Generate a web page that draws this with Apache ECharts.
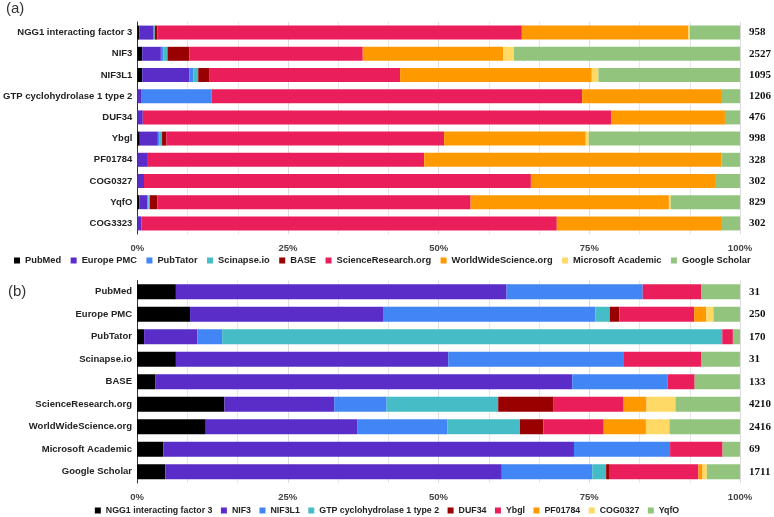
<!DOCTYPE html>
<html>
<head>
<meta charset="utf-8">
<script src="https://cdn.jsdelivr.net/npm/echarts@6/dist/echarts.min.js"></script>
<style>html,body{margin:0;padding:0;background:#fff}#c{width:774px;height:517px}</style>
</head>
<body>
<div id="c"></div>
<script>
// ---------- Chart (a): share of results per source, by protein family ----------
const genesA = ['NGG1 interacting factor 3','NIF3','NIF3L1','GTP cyclohydrolase 1 type 2','DUF34','Ybgl','PF01784','COG0327','YqfO','COG3323'];
const totalsA = [958, 2527, 1095, 1206, 476, 998, 328, 302, 829, 302];
const sourcesA = ['PubMed','Europe PMC','PubTator','Scinapse.io','BASE','ScienceResearch.org','WorldWideScience.org','Microsoft Academic','Google Scholar'];
const pubmedA   = [0.3, 0.8, 0.8, 0, 0, 0.4, 0, 0, 0.35, 0];
const europeA   = [2.3, 3.1, 7.8, 0.6, 0.9, 3.0, 1.6, 1.1, 1.3, 0.7];
const pubtatorA = [0.15, 0.45, 0.7, 11.7, 0, 0.3, 0, 0, 0.2, 0];
const scinapseA = [0.15, 0.65, 0.8, 0, 0, 0.4, 0, 0, 0.25, 0];
const baseA     = [0.4, 3.6, 1.9, 0, 0, 0.7, 0, 0, 1.2, 0];
const sciResA   = [60.5, 28.8, 31.6, 61.5, 77.7, 46.1, 46.0, 64.2, 52.0, 68.9];
const wwsA      = [27.6, 23.3, 31.8, 23.2, 18.9, 23.5, 49.3, 30.7, 32.9, 27.4];
const msAcadA   = [0.3, 1.8, 1.1, 0, 0, 0.5, 0, 0, 0.3, 0];
const scholarA  = [8.3, 37.5, 23.5, 3.0, 2.5, 25.1, 3.1, 4.0, 11.5, 3.0];

// ---------- Chart (b): share of results per protein family, by source ----------
const sourcesB = ['PubMed','Europe PMC','PubTator','Scinapse.io','BASE','ScienceResearch.org','WorldWideScience.org','Microsoft Academic','Google Scholar'];
const totalsB = [31, 250, 170, 31, 133, 4210, 2416, 69, 1711];
const genesB = ['NGG1 interacting factor 3','NIF3','NIF3L1','GTP cyclohydrolase 1 type 2','DUF34','Ybgl','PF01784','COG0327','YqfO'];
const ngg1B   = [6.45, 8.8, 1.18, 6.45, 3.01, 14.5, 11.4, 4.35, 4.7];
const nif3B   = [54.84, 32.0, 8.82, 45.16, 69.17, 18.2, 25.1, 68.12, 55.8];
const nif3l1B = [22.58, 35.2, 4.12, 29.03, 15.79, 8.7, 15.0, 15.94, 15.0];
const gtpB    = [0, 2.4, 82.94, 0, 0, 18.5, 12.0, 0, 2.3];
const duf34B  = [0, 1.6, 0, 0, 0, 9.2, 3.9, 0, 0.6];
const ybglB   = [9.68, 12.4, 1.76, 12.9, 4.51, 11.6, 10.0, 8.7, 14.7];
const pf01784B= [0, 2.0, 0, 0, 0, 3.8, 7.0, 0, 0.7];
const cog0327B= [0, 1.2, 0, 0, 0, 4.8, 3.9, 0, 0.7];
const yqfoB   = [6.45, 4.4, 1.18, 6.45, 7.52, 10.7, 11.7, 2.9, 5.5];

const palette = ['#000000','#5a2dc8','#4285f4','#46bdc6','#990000','#e91e5a','#ff9900','#ffd966','#93c47d'];

const seriesDataA = [pubmedA, europeA, pubtatorA, scinapseA, baseA, sciResA, wwsA, msAcadA, scholarA];
const seriesDataB = [ngg1B, nif3B, nif3l1B, gtpB, duf34B, ybglB, pf01784B, cog0327B, yqfoB];

const FONT = '"Liberation Sans", Arial, sans-serif';
const SERIF = '"Liberation Serif", "Times New Roman", serif';

function xAxisFor(gi) {
  return {
    gridIndex: gi, type: 'value', min: 0, max: 100, interval: 25,
    axisLine: {show: false}, axisTick: {show: false},
    axisLabel: {formatter: v => v + '%', color: '#444', fontFamily: FONT, fontWeight: 'bold', fontSize: 9.5, margin: 9},
    splitLine: {show: true, lineStyle: {color: '#dcdcdc', width: 1}},
    minorTick: {show: false, splitNumber: 3},
    minorSplitLine: {show: true, lineStyle: {color: '#e6e6e6', width: 1}}
  };
}
function yCat(gi, cats) {
  return {
    gridIndex: gi, type: 'category', data: cats, inverse: true,
    axisLine: {show: true, lineStyle: {color: '#333', width: 1}},
    axisTick: {show: false},
    axisLabel: {color: '#222', fontFamily: FONT, fontWeight: 'bold', fontSize: 9.5, margin: 5},
    splitLine: {show: false}
  };
}
function yRight(gi, totals) {
  return {
    gridIndex: gi, type: 'category', data: totals.map(String), inverse: true, position: 'right',
    axisLine: {show: false}, axisTick: {show: false},
    axisLabel: {color: '#111', fontFamily: SERIF, fontWeight: 'bold', fontSize: 11, margin: 9, align: 'left'},
    splitLine: {show: false}
  };
}

const series = [];
sourcesA.forEach((name, i) => {
  series.push({name, type: 'bar', stack: 'a', xAxisIndex: 0, yAxisIndex: 0, barWidth: 14,
    itemStyle: {color: palette[i]}, data: seriesDataA[i], emphasis: {disabled: true}});
});
genesB.forEach((name, i) => {
  series.push({name, type: 'bar', stack: 'b', xAxisIndex: 1, yAxisIndex: 2, barWidth: 15,
    itemStyle: {color: palette[i]}, data: seriesDataB[i], emphasis: {disabled: true}});
});

const chart = echarts.init(document.getElementById('c'), null, {renderer: 'canvas'});
chart.setOption({
  animation: false,
  backgroundColor: '#fff',
  textStyle: {fontFamily: FONT},
  title: [
    {text: '(a)', left: 1, top: -4, textStyle: {fontSize: 15, fontWeight: 'normal', color: '#333', fontFamily: FONT}},
    {text: '(b)', left: 3, top: 279, textStyle: {fontSize: 15, fontWeight: 'normal', color: '#333', fontFamily: FONT}}
  ],
  grid: [
    {left: 137, right: 31, top: 22, height: 212},
    {left: 137, right: 31, top: 280.5, height: 202.5}
  ],
  legend: [
    {data: sourcesA, left: 9, top: 251, icon: 'rect', itemWidth: 6, itemHeight: 6, itemGap: 9.5,
     textStyle: {fontFamily: FONT, fontWeight: 'bold', fontSize: 9.3, color: '#222'}, selectedMode: false},
    {data: genesB, left: 'center', top: 501, icon: 'rect', itemWidth: 6, itemHeight: 6, itemGap: 8.5,
     textStyle: {fontFamily: FONT, fontWeight: 'bold', fontSize: 8.8, color: '#222'}, selectedMode: false}
  ],
  xAxis: [xAxisFor(0), xAxisFor(1)],
  yAxis: [yCat(0, genesA), yRight(0, totalsA), yCat(1, sourcesB), yRight(1, totalsB)],
  series
});
</script>
</body>
</html>
